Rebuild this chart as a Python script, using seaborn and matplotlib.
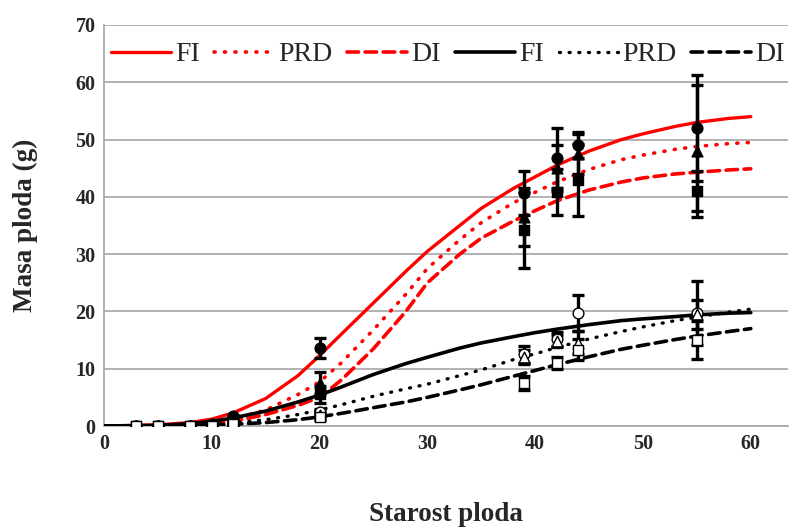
import matplotlib
matplotlib.use("Agg")
import matplotlib.pyplot as plt
import seaborn as sns
import pandas as pd
import numpy as np

# ---- fitted curves ----
curve_x = [0, 5, 8, 10, 12, 15, 18, 20, 22, 25, 28, 30, 33, 35, 38, 40, 42, 45, 48, 50, 53, 55, 58, 60]
red_fi  = [0, 0.2, 0.6, 1.2, 2.3, 4.8, 8.8, 12.3, 16.0, 21.5, 27.0, 30.5, 35.0, 38.0, 41.5, 43.5, 45.5, 48.0, 50.0, 51.0, 52.3, 53.0, 53.7, 54.0]
red_prd = [0, 0.1, 0.3, 0.6, 1.2, 2.8, 5.5, 7.7, 11.0, 16.8, 23.0, 27.5, 32.5, 35.5, 39.0, 40.8, 42.6, 44.8, 46.5, 47.3, 48.3, 48.8, 49.3, 49.5]
red_di  = [0, 0.05, 0.2, 0.4, 0.8, 2.0, 3.6, 5.0, 8.0, 13.5, 20.0, 25.0, 30.0, 32.8, 35.8, 37.6, 39.3, 41.2, 42.6, 43.3, 44.0, 44.3, 44.7, 44.9]
blk_fi  = [0, 0.1, 0.4, 0.8, 1.4, 2.6, 4.2, 5.4, 6.8, 9.0, 10.9, 12.0, 13.6, 14.5, 15.6, 16.3, 16.9, 17.7, 18.4, 18.7, 19.1, 19.4, 19.7, 19.8]
blk_prd = [0, 0.05, 0.15, 0.3, 0.5, 1.1, 2.0, 2.8, 3.7, 5.2, 6.5, 7.3, 8.8, 9.8, 11.6, 12.6, 13.7, 15.2, 16.5, 17.3, 18.4, 19.0, 19.9, 20.4]
blk_di  = [0, 0.02, 0.08, 0.15, 0.3, 0.6, 1.1, 1.6, 2.2, 3.2, 4.2, 5.0, 6.3, 7.2, 8.7, 9.7, 10.7, 12.1, 13.4, 14.1, 15.1, 15.7, 16.5, 17.0]

# ---- measured points ----
pt_x = [3, 5, 8, 10, 12, 20, 39, 42, 44, 55]
# group 1 (filled markers)
g1_fi      = [0, 0, 0, 0.3, 1.7, 13.6, 40.7, 46.8, 49.0, 52.0]
g1_fi_err  = [0, 0, 0, 0, 0.3, 1.8, 3.8, 5.2, 2.3, 9.3]
g1_prd     = [0, 0, 0, 0.2, 1.0, 7.5, 36.5, 45.0, 47.5, 48.0]
g1_prd_err = [0, 0, 0, 0, 0.2, 2.0, 5.0, 4.0, 3.5, 11.5]
g1_di      = [0, 0, 0, 0.1, 0.5, 5.5, 34.2, 40.8, 43.0, 41.0]
g1_di_err  = [0, 0, 0, 0, 0.2, 1.5, 6.6, 4.0, 6.3, 3.5]
# group 2 (open markers)
g2_fi      = [0, 0, 0, 0.1, 0.5, 2.5, 12.5, 15.2, 19.7, 19.7]
g2_fi_err  = [0, 0, 0, 0, 0.2, 0.5, 1.5, 1.2, 3.2, 5.6]
g2_prd     = [0, 0, 0, 0.1, 0.4, 2.0, 12.0, 14.8, 14.5, 19.5]
g2_prd_err = [0, 0, 0, 0, 0.1, 0.4, 1.2, 1.0, 2.0, 2.5]
g2_di      = [0, 0, 0, 0.05, 0.3, 1.5, 7.5, 11.0, 13.3, 15.0]
g2_di_err  = [0, 0, 0, 0, 0.1, 0.4, 1.2, 1.0, 1.8, 3.3]

legend_labels = ["FI", "PRD", "DI", "FI", "PRD", "DI"]

sns.set_style("white")
plt.rcParams['font.family'] = ['Liberation Serif', 'DejaVu Serif']

fig = plt.figure(figsize=(7.92, 5.28), dpi=100)
ax = fig.add_axes([104/792, 1 - 426/528, (788 - 104)/792, (426 - 25)/528])

dot = (0, (0.3, 2.6))
dash = (0, (3.2, 1.8))
curves = [
    (red_fi, "#ff0000", "-", 2.4),
    (red_prd, "#ff0000", dot, 2.6),
    (red_di, "#ff0000", dash, 2.6),
    (blk_fi, "#000000", "-", 2.6),
    (blk_prd, "#000000", dot, 2.4),
    (blk_di, "#000000", dash, 2.6),
]
handles = []
for (yv, col, ls, lw), lab in zip(curves, legend_labels):
    df = pd.DataFrame({"x": curve_x, "y": yv})
    sns.lineplot(data=df, x="x", y="y", ax=ax, color=col, linestyle=ls, lw=lw,
                 estimator=None, sort=True, dash_capstyle='round', zorder=3)
    handles.append(ax.lines[-1])

# points with error bars
series = [
    (g1_fi, g1_fi_err, "o", "black"),
    (g1_prd, g1_prd_err, "^", "black"),
    (g1_di, g1_di_err, "s", "black"),
    (g2_fi, g2_fi_err, "o", "white"),
    (g2_prd, g2_prd_err, "^", "white"),
    (g2_di, g2_di_err, "s", "white"),
]
for yv, ev, mk, fc in series:
    ax.errorbar(pt_x, yv, yerr=ev, fmt="none", ecolor="black", elinewidth=2.4,
                capsize=4, capthick=2.4, zorder=4)
    sdf = pd.DataFrame({"x": pt_x, "y": yv})
    sns.scatterplot(data=sdf, x="x", y="y", ax=ax, marker=mk, s=60,
                    color=fc, edgecolor="black", linewidth=1.0, zorder=5, legend=False)

ax.set_xlim(0, (788 - 104) / 10.78)
ax.set_ylim(0, 70)
ax.set_xticks([0, 10, 20, 30, 40, 50, 60])
ax.set_yticks(range(0, 71, 10))
ax.yaxis.grid(True, color="#a6a6a6", lw=1.2)
ax.xaxis.grid(False)
for s in ["top", "right"]:
    ax.spines[s].set_visible(False)
for s in ["left", "bottom"]:
    ax.spines[s].set_color("#a6a6a6")
    ax.spines[s].set_linewidth(1.2)
ax.tick_params(axis="both", direction="out", length=4, width=1, color="#a6a6a6",
               labelsize=14.5, pad=2)
for lab in ax.get_xticklabels() + ax.get_yticklabels():
    lab.set_fontweight("bold")

ax.set_xlabel("Starost ploda", fontsize=19.5, fontweight="bold", labelpad=34)
ax.set_ylabel("Masa ploda (g)", fontsize=19.5, fontweight="bold", labelpad=27)

ax.legend(handles, legend_labels, loc="upper left", bbox_to_anchor=(0.0, 0.975),
          ncol=6, frameon=False, fontsize=20, handlelength=2.15,
          handletextpad=0.15, columnspacing=0.53, borderaxespad=0.0, borderpad=0.25)

fig.savefig("out.png", dpi=100)
